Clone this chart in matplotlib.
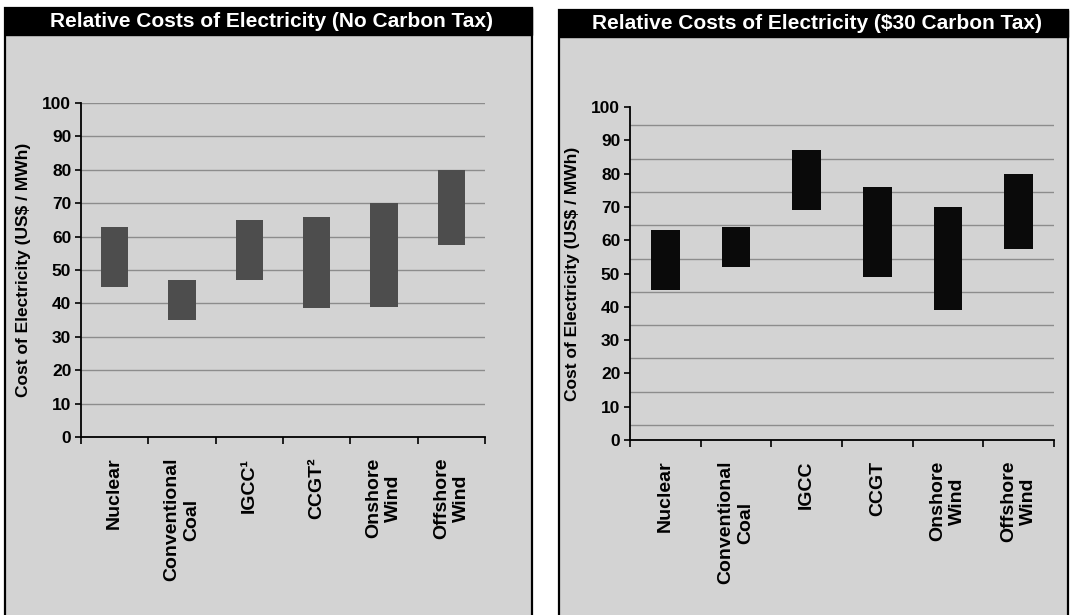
import numpy as np
import matplotlib
matplotlib.use("Agg")
import matplotlib.pyplot as plt
from matplotlib.patches import Rectangle

# ---------------- data ----------------
categories_left = ["Nuclear", "Conventional\nCoal", "IGCC\u00b9", "CCGT\u00b2", "Onshore\nWind", "Offshore\nWind"]
categories_right = ["Nuclear", "Conventional\nCoal", "IGCC", "CCGT", "Onshore\nWind", "Offshore\nWind"]
low_no_tax = [45, 35, 47, 38.5, 39, 57.5]
high_no_tax = [63, 47, 65, 66, 70, 80]
low_tax30 = [45, 52, 69, 49, 39, 57.5]
high_tax30 = [63, 64, 87, 76, 70, 80]
yticks = list(range(0, 101, 10))
title_left = "Relative Costs of Electricity (No Carbon Tax)"
title_right = "Relative Costs of Electricity ($30 Carbon Tax)"
ylabel = "Cost of Electricity (US$ / MWh)"

# ---------------- style ----------------
W, H = 1071, 615
plt.rcParams["font.family"] = ["Liberation Sans", "DejaVu Sans"]
plt.rcParams["font.weight"] = "bold"
FS = 12.5
FS_CAT = 14
FS_TITLE = 15
PANEL = "#d3d3d3"
GRID = "#8c8c8c"

fig = plt.figure(figsize=(W / 100, H / 100), dpi=100)
fig.patch.set_facecolor("white")


def fx(px):
    return px / W


def fy(py):
    return 1 - py / H


def panel(x0, x1, ytop, bar_h, title):
    fig.add_artist(Rectangle((fx(x0), -0.01), fx(x1) - fx(x0), fy(ytop) + 0.01,
                             transform=fig.transFigure, facecolor=PANEL,
                             edgecolor="black", linewidth=1.6, zorder=0))
    fig.add_artist(Rectangle((fx(x0), fy(ytop + bar_h)), fx(x1) - fx(x0), bar_h / H,
                             transform=fig.transFigure, facecolor="black",
                             edgecolor="black", linewidth=1.0, zorder=1))
    fig.text(fx((x0 + x1) / 2 + 3), fy(ytop + bar_h / 2), title, color="white",
             fontsize=FS_TITLE, fontweight="bold", ha="center", va="center", zorder=2)


panel(5, 532, 8, 27, title_left)
panel(559, 1068, 10, 27, title_right)


def make_axes(rect, cats, lows, highs, color, grid_offset):
    ax = fig.add_axes(rect)
    ax.set_facecolor("none")
    x = np.arange(len(cats))
    heights = [h - l for h, l in zip(highs, lows)]
    ax.bar(x, heights, bottom=lows, width=0.41, color=color, zorder=3)
    ax.set_xlim(-0.5, len(cats) - 0.5)
    ax.set_ylim(0, 100)
    ax.set_yticks(yticks)
    ax.set_yticklabels([str(t) for t in yticks], fontsize=FS, fontweight="bold")
    if grid_offset:
        ax.set_yticks([t + grid_offset for t in yticks[:-1]], minor=True)
        ax.tick_params(axis="y", which="minor", length=0)
        ax.grid(axis="y", which="minor", color=GRID, linewidth=1.0, zorder=1)
    else:
        ax.grid(axis="y", which="major", color=GRID, linewidth=1.0, zorder=1)
    ax.set_xticks(np.arange(-0.5, len(cats), 1.0))
    ax.set_xticklabels([])
    ax.set_xticks(x, minor=True)
    ax.set_xticklabels(cats, minor=True, rotation=90, fontsize=FS_CAT, fontweight="bold",
                       va="top", ha="center", multialignment="center")
    ax.tick_params(axis="x", which="minor", length=0, pad=15)
    ax.tick_params(axis="x", which="major", length=5, width=1.2, direction="out")
    ax.tick_params(axis="y", which="major", length=4, width=1.2, direction="out", pad=3)
    for s in ("top", "right"):
        ax.spines[s].set_visible(False)
    for s in ("left", "bottom"):
        ax.spines[s].set_linewidth(1.3)
    ax.set_ylabel(ylabel, fontsize=FS, fontweight="bold", labelpad=8)
    return ax


make_axes([fx(81), fy(437), fx(485) - fx(81), (437 - 103) / H],
          categories_left, low_no_tax, high_no_tax, "#4d4d4d", None)
make_axes([fx(630), fy(440), fx(1054) - fx(630), (440 - 107) / H],
          categories_right, low_tax30, high_tax30, "#0a0a0a", 4.5)

fig.savefig("out.png", dpi=100, facecolor=fig.get_facecolor())
